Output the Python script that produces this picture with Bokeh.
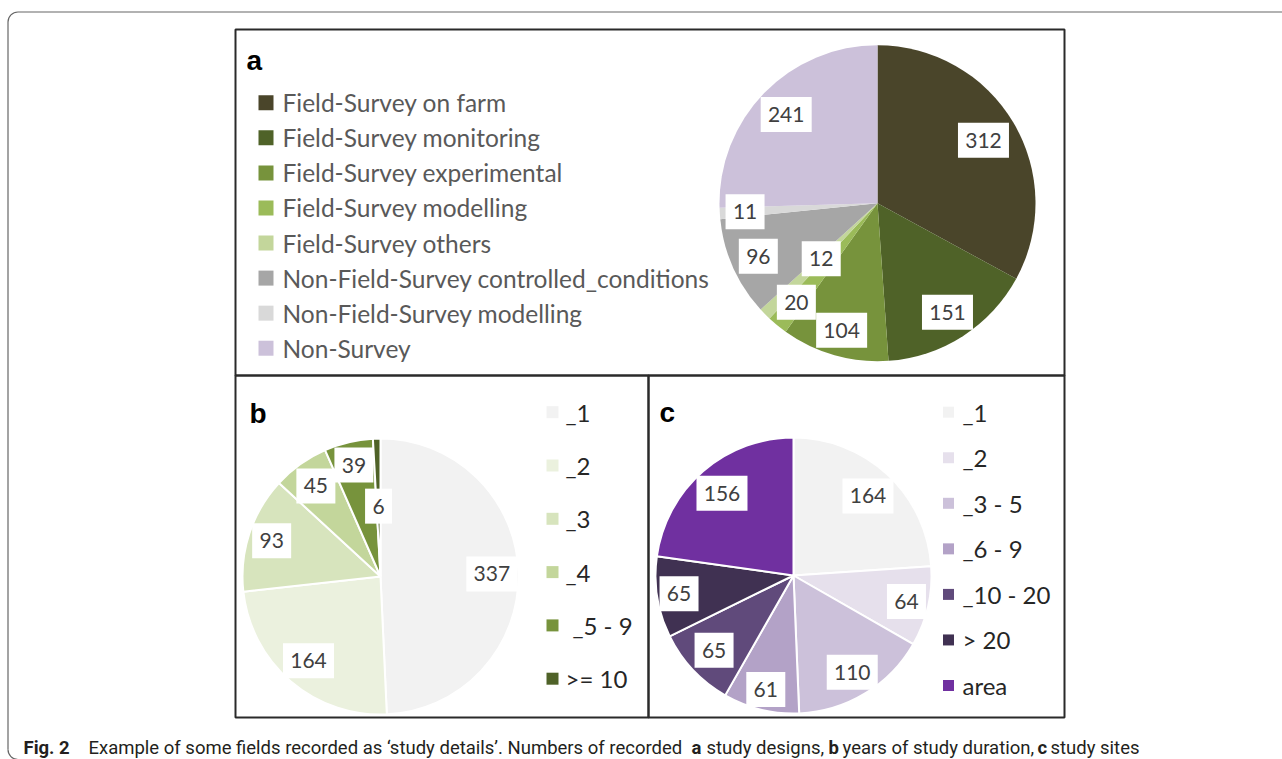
import math
from bokeh.plotting import figure
from bokeh.models import Range1d
from bokeh.core.properties import value
from bokeh.embed import file_html
from bokeh.resources import INLINE

# ---------------- data ----------------
a_labels = ["Field-Survey on farm", "Field-Survey monitoring", "Field-Survey experimental",
            "Field-Survey modelling", "Field-Survey others", "Non-Field-Survey controlled_conditions",
            "Non-Field-Survey modelling", "Non-Survey"]
a_values = [312, 151, 104, 20, 12, 96, 11, 241]
a_colors = ["#4A452A", "#4F6228", "#77933C", "#9BBB59", "#C3D69B", "#A6A6A6", "#D9D9D9", "#CCC1DA"]

b_labels = ["_1", "_2", "_3", "_4", "_5 - 9", ">= 10"]
b_values = [337, 164, 93, 45, 39, 6]
b_colors = ["#F2F2F2", "#EBF1DE", "#D7E4BD", "#C3D69B", "#77933C", "#4F6228"]

c_labels = ["_1", "_2", "_3 - 5", "_6 - 9", "_10 - 20", "> 20", "area"]
c_values = [164, 64, 110, 61, 65, 65, 156]
c_colors = ["#F2F2F2", "#E6E0EC", "#CCC1DA", "#B3A2C7", "#604A7B", "#403152", "#7030A0"]

# label placement (fraction of radius along slice bisector)
a_label_frac = [0.78, 0.82, 0.835, 0.81, 0.50, 0.826, 0.84, 0.806]
b_label_frac = [0.807, 0.803, 0.83, 0.806, 0.83, 0.51]
c_label_frac = [0.79, 0.84, 0.82, 0.85, 0.79, 0.84, 0.79]
b_legend_indent = [0, 0, 0, 0, 7, 0]

caption_parts = [("Fig. 2", "bold", 23),
                 ("Example of some fields recorded as \u2018study details\u2019. Numbers of recorded", "normal", 88),
                 ("a", "bold", 691), ("study designs,", "normal", 706),
                 ("b", "bold", 828), ("years of study duration,", "normal", 842),
                 ("c", "bold", 1037), ("study sites", "normal", 1050)]

# ---------------- canvas ----------------
W, H = 1282, 759
p = figure(width=W, height=H, x_range=Range1d(0, W), y_range=Range1d(0, H),
           output_backend="svg", toolbar_location=None, min_border=0,
           x_axis_type=None, y_axis_type=None)
p.grid.visible = False
p.outline_line_color = None
p.background_fill_color = "white"
p.border_fill_color = "white"


def Y(py):
    return H - py


FONT = value("Lato")
FRAME = "#666666"

# outer rounded frame
p.line(x=[17.5, 1282], y=[Y(11.5), Y(11.5)], line_color=FRAME, line_width=1.2)
p.line(x=[7.5, 7.5], y=[Y(21.5), Y(749)], line_color=FRAME, line_width=1.2)
p.arc(x=[17.5], y=[Y(21.5)], radius=10, start_angle=math.pi / 2, end_angle=math.pi,
      direction="anticlock", line_color=FRAME, line_width=1.2)
p.arc(x=[17.5], y=[Y(749)], radius=10, start_angle=math.pi, end_angle=1.5 * math.pi,
      direction="anticlock", line_color=FRAME, line_width=1.2)

# panel boxes
for (x0, x1, y0, y1) in [(235, 1064, 29, 375), (235, 648, 375, 717), (648, 1064, 375, 717)]:
    p.quad(left=x0, right=x1, top=Y(y0), bottom=Y(y1), fill_alpha=0,
           line_color="#2a2a2a", line_width=2)

# panel letters
for letter, lx, ly in [("a", 246, 60), ("b", 249, 413), ("c", 659, 412)]:
    p.text(x=[lx], y=[Y(ly)], text=[letter], text_font=value("Liberation Sans"),
           text_font_style="bold", text_font_size="28px", text_color="black",
           text_baseline="alphabetic", text_align="left")


def pie(cx, cy, r, values, colors, fracs, border):
    total = float(sum(values))
    cum = 0.0
    starts, ends, lx, ly, widths, texts = [], [], [], [], [], []
    for v, f in zip(values, fracs):
        a0 = math.pi / 2 - 2 * math.pi * cum / total
        cum += v
        a1 = math.pi / 2 - 2 * math.pi * cum / total
        starts.append(a1)
        ends.append(a0)
        mid = (a0 + a1) / 2
        lx.append(cx + f * r * math.cos(mid))
        ly.append(Y(cy) + f * r * math.sin(mid))
        texts.append(str(v))
        widths.append(15 + 12 * len(str(v)))
    n = len(values)
    p.wedge(x=[cx] * n, y=[Y(cy)] * n, radius=r, start_angle=starts, end_angle=ends,
            direction="anticlock", fill_color=colors,
            line_color="white" if border else None, line_width=border if border else 0)
    p.rect(x=lx, y=ly, width=widths, height=[35] * n, fill_color="white", line_color=None)
    p.text(x=lx, y=ly, text=texts, text_font=FONT, text_font_size="21px",
           text_color="#404040", text_align="center", text_baseline="middle")


pie(877, 202.7, 158, a_values, a_colors, a_label_frac, 0)
pie(380, 576, 138, b_values, b_colors, b_label_frac, 2)
pie(793, 575, 138, c_values, c_colors, c_label_frac, 2)


def legend(labels, colors, sq_x, sq, text_x, y0, dy, tcolor, size, indent=None):
    n = len(labels)
    ys = [Y(y0 + i * dy) for i in range(n)]
    xs = [text_x + (indent[i] if indent else 0) for i in range(n)]
    p.rect(x=[sq_x] * n, y=ys, width=sq, height=sq, fill_color=colors, line_color=None)
    p.text(x=xs, y=ys, text=labels, text_font=FONT, text_font_size=size,
           text_color=tcolor, text_align="left", text_baseline="middle")


legend(a_labels, a_colors, 265.5, 15, 282, 102.3, 35.06, "#595959", "24.5px")
legend(b_labels, b_colors, 552, 12, 565, 411.7, 53.3, "#262626", "24px", b_legend_indent)
legend(c_labels, c_colors, 948, 11, 962, 411.7, 45.55, "#262626", "24px")

# caption
for txt, style, x0 in caption_parts:
    p.text(x=[x0], y=[Y(747)], text=[txt], text_font=value("Roboto"), text_font_style=style,
           text_font_size="18.5px", text_color="#231F20", text_align="left",
           text_baseline="alphabetic")

open("out.html", "w").write(file_html(p, INLINE))
